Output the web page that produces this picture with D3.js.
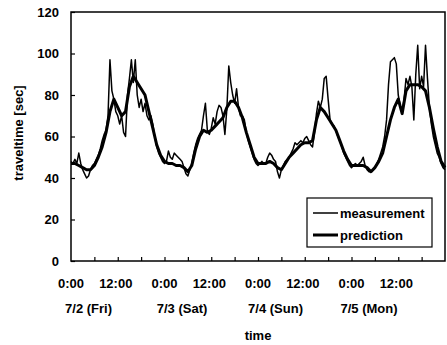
<!DOCTYPE html>
<html>
<head>
<meta charset="utf-8">
<script src="https://cdn.jsdelivr.net/npm/d3@7/dist/d3.min.js"></script>
<style>
  html, body { margin: 0; padding: 0; background: #fff; }
  svg { display: block; font-family: "Liberation Sans", Arial, sans-serif; font-weight: bold; }
</style>
</head>
<body>
<div id="chart"></div>
<script>
// measurement: one value every 0.5 h, 7/2 0:00 .. 7/6 0:00
const measStep = 0.5;
const measurement = [
  48,47,49,47,52,47,44,42,40,41,44,46,
  47,49,51,54,58,61,63,70,97,82,78,72,
  70,66,70,62,60,80,88,97,86,97,80,74,
  78,72,76,70,68,70,66,60,55,52,50,48,
  47,48,53,50,49,52,51,50,49,48,45,42,
  41,44,47,52,56,59,61,63,70,76,63,61,
  64,69,66,72,75,74,70,61,73,94,86,80,
  76,83,74,70,70,68,62,58,55,52,49,47,
  46,47,48,47,47,50,52,51,49,48,43,40,
  44,46,48,49,50,52,54,57,56,57,58,57,
  59,60,58,56,55,62,71,77,74,78,88,89,
  78,68,66,65,63,60,58,55,52,50,48,46,
  45,46,47,46,47,48,50,46,44,43,43,44,
  45,47,49,52,55,60,68,85,96,97,98,95,
  80,75,72,78,88,85,89,84,68,90,104,83,
  89,84,104,88,74,66,60,56,52,50,47,45,
  44
];

// prediction: one value every hour
const predStep = 1;
const prediction = [
  47,47,46,45,44,44,46,50,55,62,72,78,74,70,72,84,89,86,83,80,72,64,56,51,
  48,47,47,46,46,45,43,46,54,60,63,62,63,65,67,69,74,77,77,74,69,62,56,50,
  47,47,47,48,47,45,44,47,50,52,54,56,57,57,58,68,74,72,69,66,63,58,53,49,
  46,46,46,46,45,43,45,48,52,60,68,74,78,71,82,85,85,85,84,82,74,64,55,48,
  45
];

const yTicks = [0, 20, 40, 60, 80, 100, 120];
const hourLabels = ["0:00", "12:00", "0:00", "12:00", "0:00", "12:00", "0:00", "12:00"];
const dayLabels = ["7/2 (Fri)", "7/3 (Sat)", "7/4 (Sun)", "7/5 (Mon)"];
const seriesNames = ["measurement", "prediction"];

const W = 447, H = 345;
const m = { left: 71, right: 445, top: 12, bottom: 261 };

const svg = d3.select("#chart").append("svg")
  .attr("width", W).attr("height", H);

const x = d3.scaleLinear().domain([0, 96]).range([m.left, m.right]);
const y = d3.scaleLinear().domain([0, 120]).range([m.bottom, m.top]);

// frame
svg.append("rect")
  .attr("x", m.left).attr("y", m.top)
  .attr("width", m.right - m.left).attr("height", m.bottom - m.top)
  .attr("fill", "none").attr("stroke", "#000").attr("stroke-width", 1.5);

// y axis, ticks pointing inward
const yAxis = svg.append("g")
  .attr("transform", `translate(${m.left},0)`)
  .call(d3.axisRight(y).tickValues(yTicks).tickSize(4).tickFormat(""));
yAxis.select(".domain").remove();
yAxis.selectAll("line").attr("stroke", "#000").attr("stroke-width", 1.2);

svg.append("g").selectAll("text")
  .data(yTicks)
  .enter().append("text")
  .attr("x", 59)
  .attr("y", d => y(d) + 4.5)
  .attr("text-anchor", "end")
  .attr("font-size", "13px")
  .text(d => d);

// x axis, ticks every 6 hours pointing up
const xAxis = svg.append("g")
  .attr("transform", `translate(0,${m.bottom})`)
  .call(d3.axisTop(x).tickValues(d3.range(6, 96, 6)).tickSize(4).tickFormat(""));
xAxis.select(".domain").remove();
xAxis.selectAll("line").attr("stroke", "#000").attr("stroke-width", 1.2);

svg.append("g").selectAll("text")
  .data(hourLabels)
  .enter().append("text")
  .attr("x", (d, i) => x(i * 12) - (i % 2 ? 2 : 0))
  .attr("y", 288)
  .attr("text-anchor", "middle")
  .attr("font-size", "13px")
  .text(d => d);

svg.append("g").selectAll("text")
  .data(dayLabels)
  .enter().append("text")
  .attr("x", (d, i) => x(i * 24 + 4.5))
  .attr("y", 313)
  .attr("text-anchor", "middle")
  .attr("font-size", "13px")
  .text(d => d);

svg.append("text")
  .attr("x", (m.left + m.right) / 2)
  .attr("y", 340)
  .attr("text-anchor", "middle")
  .attr("font-size", "13px")
  .text("time");

svg.append("text")
  .attr("transform", "translate(23,133) rotate(-90)")
  .attr("text-anchor", "middle")
  .attr("font-size", "13px")
  .text("traveltime [sec]");

// lines
const line = step => d3.line()
  .x((d, i) => x(i * step))
  .y(d => y(d));

svg.append("path")
  .datum(measurement)
  .attr("fill", "none")
  .attr("stroke", "#000")
  .attr("stroke-width", 1.5)
  .attr("stroke-linejoin", "round")
  .attr("d", line(measStep));

svg.append("path")
  .datum(prediction)
  .attr("fill", "none")
  .attr("stroke", "#000")
  .attr("stroke-width", 3)
  .attr("stroke-linejoin", "round")
  .attr("d", line(predStep));

// legend
const lg = svg.append("g");
lg.append("rect")
  .attr("x", 307).attr("y", 198)
  .attr("width", 125).attr("height", 49)
  .attr("fill", "#fff").attr("stroke", "#000").attr("stroke-width", 1.2);

lg.selectAll("line")
  .data(seriesNames)
  .enter().append("line")
  .attr("x1", 313).attr("x2", 338)
  .attr("y1", (d, i) => 213 + i * 22)
  .attr("y2", (d, i) => 213 + i * 22)
  .attr("stroke", "#000")
  .attr("stroke-width", (d, i) => i ? 3 : 1.5);

lg.selectAll("text")
  .data(seriesNames)
  .enter().append("text")
  .attr("x", 340)
  .attr("y", (d, i) => 217.5 + i * 22)
  .attr("font-size", "13px")
  .text(d => d);
</script>
</body>
</html>
